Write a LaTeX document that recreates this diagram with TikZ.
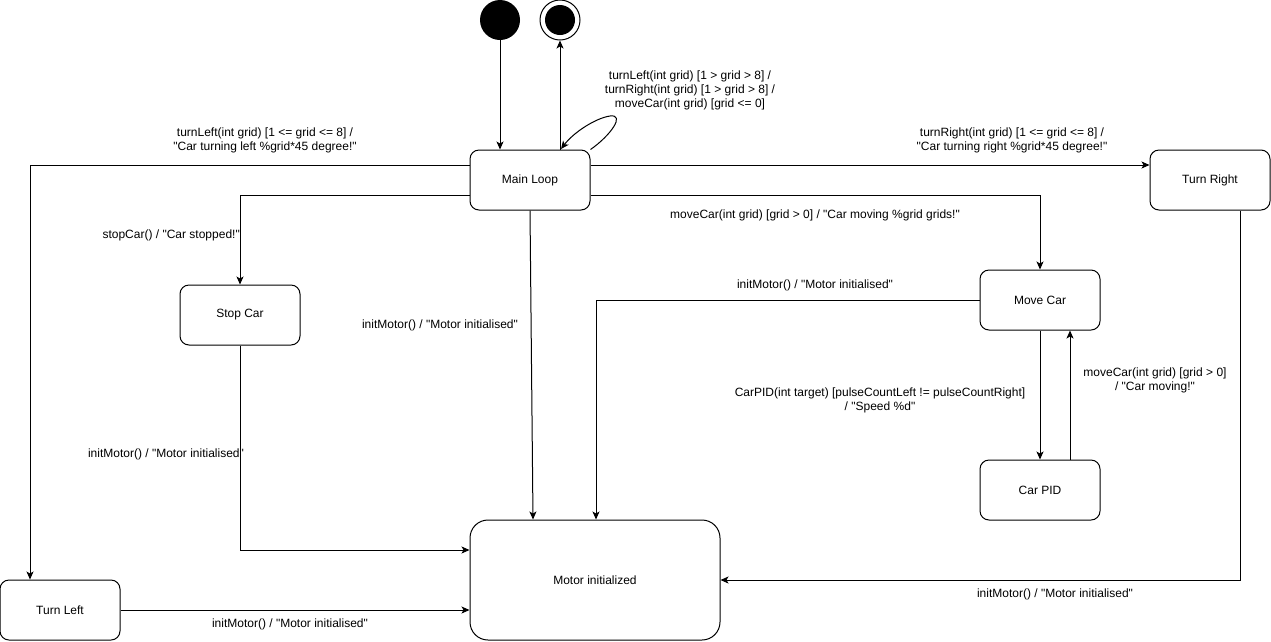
\documentclass[tikz,border=0pt]{standalone}
\usepackage{fontspec}
% plain straight quotes: no TeX ligature mapping
\setmainfont{Liberation Sans}[Ligatures=TeXOff]
\usetikzlibrary{arrows.meta}
\newcommand\qt{"}
\begin{document}
\begin{tikzpicture}[x=1pt,y=-1pt,
  every node/.style={font=\fontsize{12}{14}\selectfont},
  state/.style={draw,line width=1pt,rounded corners=9pt,minimum width=120pt,minimum height=60pt,inner sep=0pt},
  bigstate/.style={draw,line width=1pt,rounded corners=18pt,minimum width=250pt,minimum height=120pt,inner sep=0pt},
  lbl/.style={align=center,inner sep=0pt},
  arr/.style={line width=1pt,-{Stealth[length=8pt,width=7pt,inset=2pt]}}]
\useasboundingbox (0,0) rectangle (1271,641);

% states
\node[circle,fill=black,minimum size=40pt,inner sep=0pt] (init) at (500,20) {};
\node[circle,draw,line width=1pt,minimum size=40pt,inner sep=0pt] (fin) at (560,20) {};
\fill (fin.center) circle (15pt);
\node[state] (ml) at (530,180) {Main Loop};
\node[state] (tr) at (1210,180) {Turn Right};
\node[state] (sc) at (240,315) {Stop Car};
\node[state] (mc) at (1040,300) {Move Car};
\node[state] (cp) at (1040,490) {Car PID};
\node[state] (tl) at (60,610) {Turn Left};
\node[bigstate] (mi) at (595,580) {Motor initialized};

% transitions
\draw[arr] (init.south) -- (init.south |- ml.north);
\draw[arr] (fin.south |- ml.north) -- (fin.south);
\draw[arr] (ml.north east) .. controls (610,136) and (626,114) .. (610,116)
  .. controls (596,118) and (574,132) .. (561,149);
\draw[arr] ([yshift=15pt]ml.west) -| ([xshift=-30pt]tl.north);
\draw[arr] ([yshift=15pt]ml.east) -- ([yshift=15pt]tr.west);
\draw[arr] ([yshift=-15pt]ml.west) -| (sc.north);
\draw[arr] ([yshift=-15pt]ml.east) -| (mc.north);
\draw[arr] (ml.south) -- ([xshift=-62pt]mi.north);
\draw[arr] (sc.south) |- ([yshift=30pt]mi.west);
\draw[arr] (mc.west) -| ([xshift=1pt]mi.north);
\draw[arr] (mc.south) -- (cp.north);
\draw[arr] ([xshift=30pt]cp.north) -- ([xshift=30pt]mc.south);
\draw[arr] ([xshift=30pt]tr.south) |- (mi.east);
\draw[arr] (tl.east) -- (mi.west |- tl.east);

% transition labels
\node[lbl] (l1) at (690,90) {turnLeft(int grid) [1 > grid > 8] /\\turnRight(int grid) [1 > grid > 8] /\\moveCar(int grid) [grid <= 0]};
\node[lbl] (l2) at (265,140) {turnLeft(int grid) [1 <= grid <= 8] /\\\qt Car turning left \%grid*45 degree!\qt};
\node[lbl] (l3) at (1012,140) {turnRight(int grid) [1 <= grid <= 8] /\\\qt Car turning right \%grid*45 degree!\qt};
\node[lbl,anchor=east] (l4) at (240,235) {stopCar() / \qt Car stopped!\qt};
\node[lbl] (l5) at (815,215) {moveCar(int grid) [grid > 0] / \qt Car moving \%grid grids!\qt};
\node[lbl] (l6) at (440,325) {initMotor() / \qt Motor initialised\qt};
\node[lbl] (l7) at (815,285) {initMotor() / \qt Motor initialised\qt};
\node[lbl] (l8) at (880,400) {CarPID(int target) [pulseCountLeft != pulseCountRight]\\/ \qt Speed \%d\qt};
\node[lbl] (l9) at (1155,380) {moveCar(int grid) [grid > 0]\\/ \qt Car moving!\qt};
\node[lbl] (l10) at (166,454) {initMotor() / \qt Motor initialised\qt};
\node[lbl] (l11) at (1055,594) {initMotor() / \qt Motor initialised\qt};
\node[lbl] (l12) at (290,624) {initMotor() / \qt Motor initialised\qt};
\end{tikzpicture}
\end{document}
